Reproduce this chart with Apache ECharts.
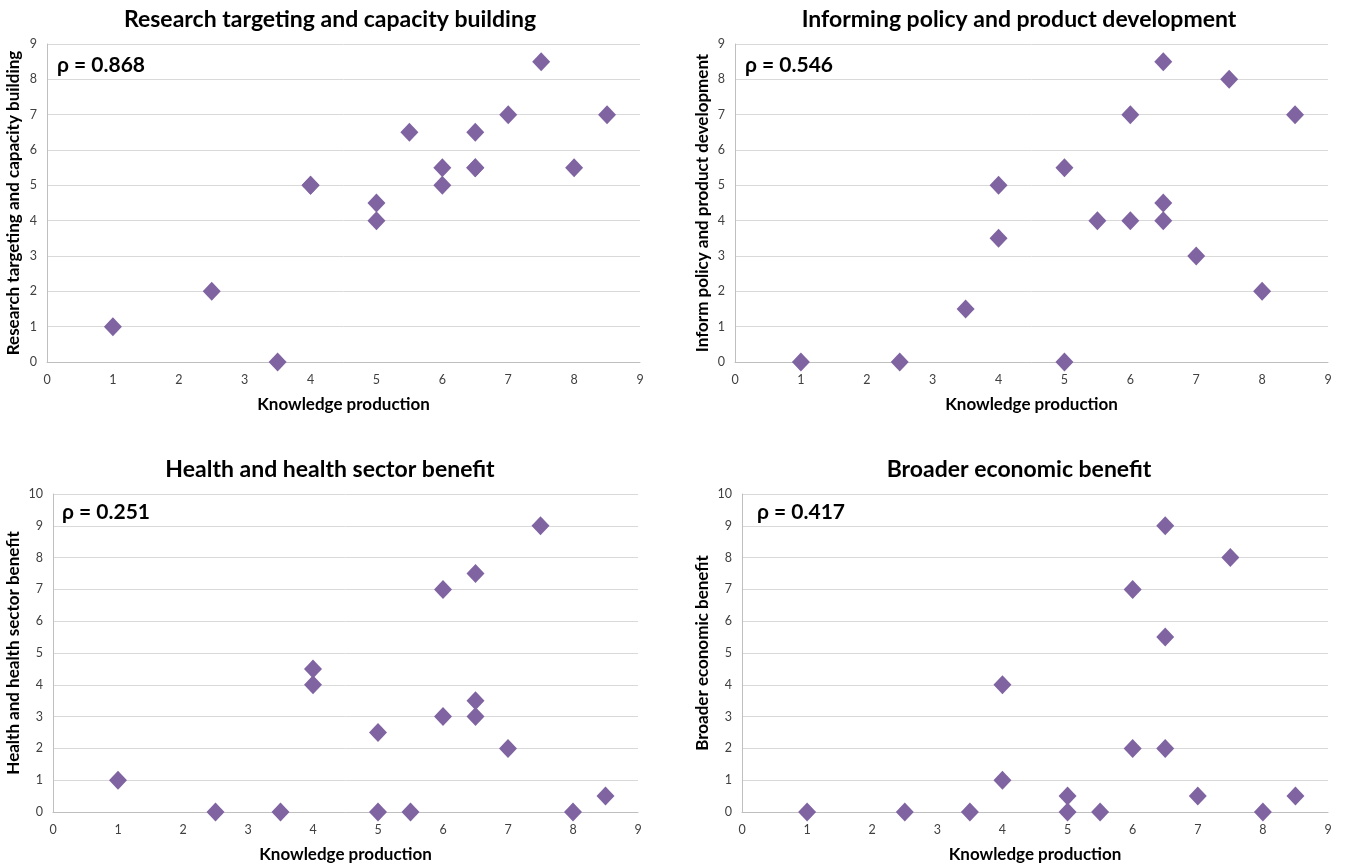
<!DOCTYPE html>
<html><head><meta charset="utf-8">
<script src="https://cdn.jsdelivr.net/npm/echarts@6/dist/echarts.min.js"></script>
<style>html,body{margin:0;padding:0;background:#fff}#c{width:1348px;height:867px}</style>
</head><body><div id="c"></div>
<script>
const knowledge = [1, 2.5, 3.5, 4, 4, 5, 5, 5.5, 6, 6, 6.5, 6.5, 6.5, 7, 7.5, 8, 8.5];
const research  = [1, 2, 0, 5, 5, 4.5, 4, 6.5, 5.5, 5, 6.5, 5.5, 5.5, 7, 8.5, 5.5, 7];
const policy    = [0, 0, 1.5, 5, 3.5, 5.5, 0, 4, 7, 4, 8.5, 4.5, 4, 3, 8, 2, 7];
const health    = [1, 0, 0, 4.5, 4, 2.5, 0, 0, 7, 3, 7.5, 3.5, 3, 2, 9, 0, 0.5];
const economic  = [0, 0, 0, 4, 1, 0.5, 0, 0, 7, 2, 9, 5.5, 2, 0.5, 8, 0, 0.5];
const titles = ['Research targeting and capacity building','Informing policy and product development','Health and health sector benefit','Broader economic benefit'];
const yNames = ['Research targeting and capacity building','Inform policy and product development','Health and health sector benefit','Broader economic benefit'];
const rhos = ['ρ = 0.868','ρ = 0.546','ρ = 0.251','ρ = 0.417'];
const yMax = [9, 9, 10, 10];
const xName = 'Knowledge production';
const seriesY = [research, policy, health, economic];

const FONT = 'Lato';
const grids = [
  {left:47, top:44, width:593, height:318},
  {left:735, top:44, width:593, height:318},
  {left:53, top:494, width:585, height:318},
  {left:742, top:494, width:586, height:318}
];
const titleCenters = [[325,3],[1014,3],[325,453],[1014,453]];
const rhoPos = [[52,50],[740,50],[57,497],[752,497]];
const yGaps = [25, 24, 31, 31];

const option = {
  animation:false,
  title: titles.map((t,i)=>({text:t,left:titleCenters[i][0],top:titleCenters[i][1],textAlign:'center',
    textStyle:{fontFamily:FONT,fontWeight:'bold',fontSize:23,color:'#000'}}))
    .concat(rhos.map((t,i)=>({text:t,left:rhoPos[i][0],top:rhoPos[i][1],
    textStyle:{fontFamily:FONT,fontWeight:'bold',fontSize:21,color:'#000'}}))),
  grid: grids,
  xAxis: grids.map((g,i)=>({type:'value',gridIndex:i,min:0,max:9,interval:1,
    name:xName,nameLocation:'middle',nameGap:34,
    nameTextStyle:{fontFamily:FONT,fontWeight:'bold',fontSize:17,color:'#000'},
    axisLine:{show:true,lineStyle:{color:'#bfbfbf'}},axisTick:{show:false},
    axisLabel:{fontFamily:FONT,fontSize:12.5,color:'#404040',margin:11},
    splitLine:{show:false}})),
  yAxis: grids.map((g,i)=>({type:'value',gridIndex:i,min:0,max:yMax[i],interval:1,
    name:yNames[i],nameLocation:'middle',nameGap:yGaps[i],
    nameTextStyle:{fontFamily:FONT,fontWeight:'bold',fontSize:17,color:'#000'},
    axisLine:{show:true,lineStyle:{color:'#bfbfbf'}},axisTick:{show:false},
    axisLabel:{fontFamily:FONT,fontSize:12.5,color:'#404040',margin:10},
    splitLine:{show:true,lineStyle:{color:'#d9d9d9'}}})),
  series: seriesY.map((ys,i)=>({type:'scatter',xAxisIndex:i,yAxisIndex:i,
    symbol:'diamond',symbolSize:[18,19],
    itemStyle:{color:'#8064A2',opacity:1},
    data: knowledge.map((x,j)=>[x,ys[j]])}))
};
echarts.init(document.getElementById('c')).setOption(option);
</script></body></html>
